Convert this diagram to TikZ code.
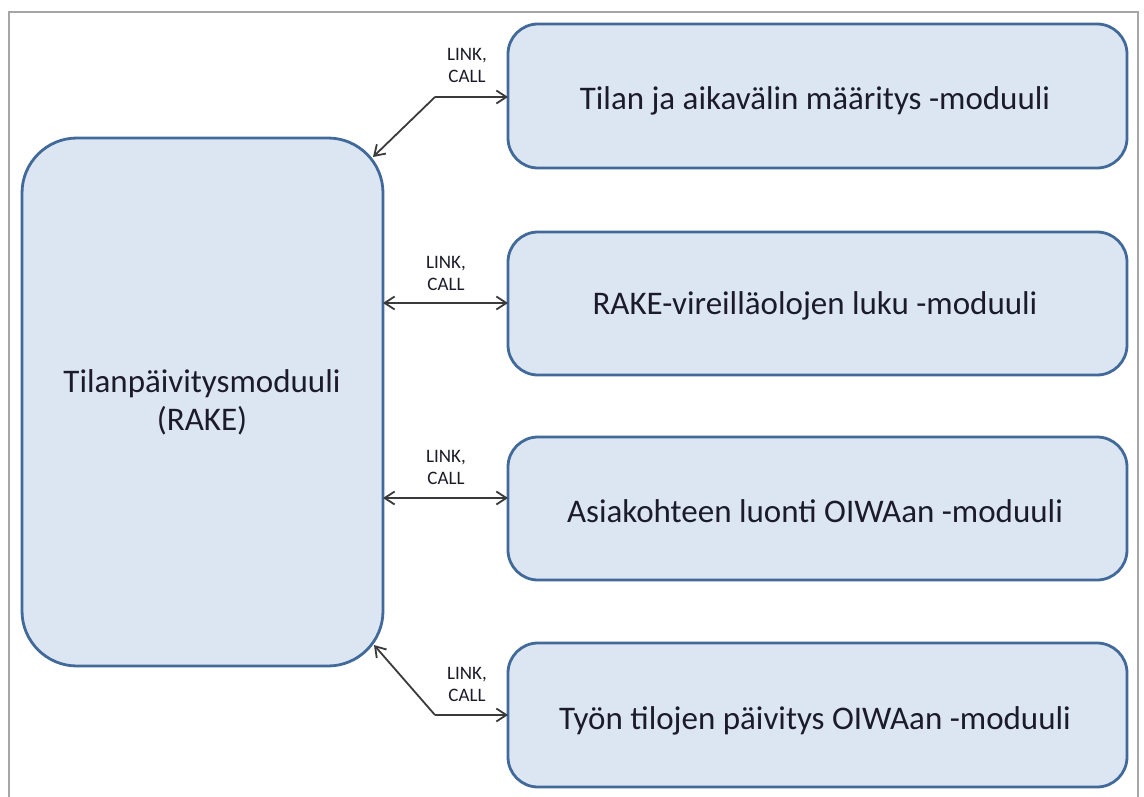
\documentclass[tikz,border=0pt]{standalone}
\usepackage{fontspec}
\setmainfont{Carlito}
\usetikzlibrary{arrows.meta}
\definecolor{boxfill}{HTML}{DCE6F2}
\definecolor{boxline}{HTML}{41699A}
\definecolor{linkline}{HTML}{3A3A3A}
\definecolor{txt}{HTML}{1B1B2A}
\begin{document}
\begin{tikzpicture}[x=1pt,y=-1pt,
  modbox/.style={draw=boxline, line width=2.8pt, fill=boxfill, rounded corners=30pt},
  bigbox/.style={draw=boxline, line width=2.8pt, fill=boxfill, rounded corners=55pt},
  modtext/.style={font=\fontsize{33}{38}\selectfont, text=txt, anchor=base, inner sep=0pt},
  linklbl/.style={font=\fontsize{19}{22}\selectfont, align=center, text=txt, inner sep=0pt},
  conn/.style={draw=linkline, line width=1.8pt, {Straight Barb[length=10pt,width=13pt]}-{Straight Barb[length=10pt,width=13pt]}},
  connr/.style={draw=linkline, line width=1.8pt, -{Straight Barb[length=10pt,width=13pt]}}]
\useasboundingbox (0,0) rectangle (1144,797);
% outer frame
\draw[gray!70, line width=1.2pt] (9,797) -- (9,12) -- (1138,12) -- (1138,797);

% main module
\draw[bigbox] (22,138) rectangle (383,666);
\node[modtext] (main1) at (202,392) {Tilanpäivitysmoduuli};
\node[modtext] (main2) at (202,430) {(RAKE)};

% sub-modules
\draw[modbox] (508,24) rectangle (1127,168);
\node[modtext] (m1) at (815,110) {Tilan ja aikavälin määritys -moduuli};
\draw[modbox] (508,232) rectangle (1127,375);
\node[modtext] (m2) at (815,314) {RAKE-vireilläolojen luku -moduuli};
\draw[modbox] (508,437) rectangle (1127,580);
\node[modtext] (m3) at (815,522) {Asiakohteen luonti OIWAan -moduuli};
\draw[modbox] (508,643) rectangle (1127,787);
\node[modtext] (m4) at (815,729) {Työn tilojen päivitys OIWAan -moduuli};

% connector anchor points
\coordinate (k1) at (435,97);
\coordinate (e1) at (508,97);
\coordinate (t1) at (373,157);
\coordinate (s2) at (383,303);
\coordinate (e2) at (508,303);
\coordinate (s3) at (383,498);
\coordinate (e3) at (508,498);
\coordinate (k4) at (435,715);
\coordinate (e4) at (508,715);
\coordinate (t4) at (374,645);

% connectors
\draw[connr] (k1) -- (e1);
\draw[connr] (k1) -- (t1);
\draw[conn] (s2) -- (e2);
\draw[conn] (s3) -- (e3);
\draw[connr] (k4) -- (e4);
\draw[connr] (k4) -- (t4);

% connector labels
\node[linklbl] (l1) at (467,65) {LINK,\\CALL};
\node[linklbl] (l2) at (446,273) {LINK,\\CALL};
\node[linklbl] (l3) at (446,467) {LINK,\\CALL};
\node[linklbl] (l4) at (467,684) {LINK,\\CALL};
\end{tikzpicture}
\end{document}
